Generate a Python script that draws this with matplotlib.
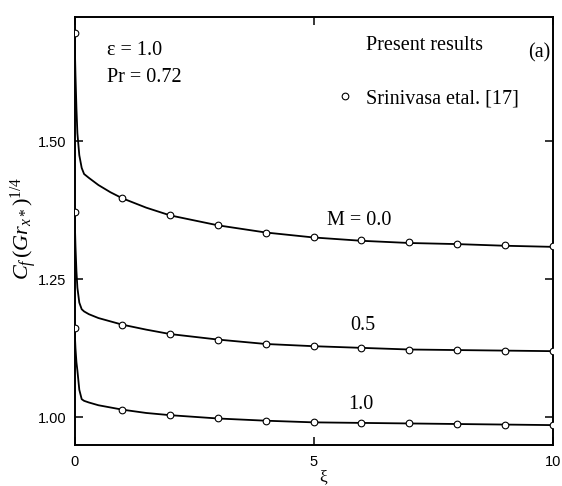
import matplotlib.pyplot as plt
from matplotlib.lines import Line2D

plt.rcParams['font.family'] = ['Liberation Serif', 'DejaVu Serif']
plt.rcParams['mathtext.fontset'] = 'custom'
plt.rcParams['mathtext.rm'] = 'Liberation Serif'
plt.rcParams['mathtext.it'] = 'Liberation Serif:italic'
plt.rcParams['mathtext.bf'] = 'Liberation Serif:bold'

# solid lines (present results)
xi_line = [0, 0.02, 0.04, 0.06, 0.1, 0.15, 0.2, 0.3, 0.5, 0.75, 1, 1.5, 2, 3, 4, 5, 6, 7, 8, 9, 10]
cf_m00 = [1.696, 1.62, 1.56, 1.515, 1.475, 1.452, 1.441, 1.434, 1.421, 1.408, 1.397, 1.380, 1.366,
          1.348, 1.335, 1.326, 1.320, 1.316, 1.314, 1.311, 1.309]
cf_m05 = [1.373, 1.31, 1.265, 1.235, 1.208, 1.196, 1.192, 1.187, 1.180, 1.174, 1.168, 1.159, 1.151,
          1.141, 1.133, 1.129, 1.126, 1.123, 1.122, 1.121, 1.120]
cf_m10 = [1.162, 1.125, 1.100, 1.085, 1.050, 1.033, 1.030, 1.027, 1.022, 1.018, 1.014, 1.008, 1.004,
          0.998, 0.994, 0.991, 0.990, 0.989, 0.988, 0.987, 0.986]

# open circles (Srinivasa etal. [17])
xi_pts = [0, 1, 2, 3, 4, 5, 6, 7, 8, 9, 10]
sr_m00 = [1.696, 1.397, 1.366, 1.348, 1.335, 1.326, 1.321, 1.317, 1.315, 1.312, 1.310]
sr_m05 = [1.373, 1.168, 1.151, 1.141, 1.133, 1.129, 1.126, 1.123, 1.122, 1.121, 1.120]
sr_m10 = [1.162, 1.014, 1.004, 0.998, 0.994, 0.991, 0.990, 0.989, 0.988, 0.987, 0.986]

m_labels = ["M = 0.0", "0.5", "1.0"]
label_pos = [(0.528, 0.525), (0.576, 0.280), (0.572, 0.094)]

fig = plt.figure(figsize=(5.62, 4.86), dpi=100)
ax = fig.add_axes([0.1326, 0.0844, 0.8508, 0.8812])

for cf in [cf_m00, cf_m05, cf_m10]:
    ax.plot(xi_line, cf, color='black', lw=1.3, zorder=2)
for sr in [sr_m00, sr_m05, sr_m10]:
    ax.plot(xi_pts, sr, ls='none', marker='o', ms=4.8, mfc='white', mec='black', mew=0.8, zorder=3)

ax.set_xlim(0, 10)
ax.set_ylim(0.95, 1.726)
ax.set_xticks([0, 5, 10])
ax.set_yticks([1.00, 1.25, 1.50])
ax.set_yticklabels(["1.00", "1.25", "1.50"])
ax.tick_params(direction='in', length=6, width=1.1, top=True, right=True,
               labelsize=10.5)
ax.tick_params(axis='x', pad=7)
ax.tick_params(axis='y', pad=6)
for lab in ax.get_xticklabels() + ax.get_yticklabels():
    lab.set_fontfamily('Liberation Sans')
for sp in ax.spines.values():
    sp.set_linewidth(1.4)

ax.set_xlabel("ξ", fontsize=12.5)
ax.xaxis.set_label_coords(0.52, -0.057)
ax.set_ylabel(r'$C_{f}\,(Gr_{x*})^{\mathit{1/4}}$', fontsize=16)
ax.yaxis.set_label_coords(-0.074, 0.507)

ax.text(0.068, 0.922, "ε = 1.0", transform=ax.transAxes, fontsize=14.5, va='center')
ax.text(0.068, 0.857, "Pr = 0.72", transform=ax.transAxes, fontsize=14.5, va='center')
ax.text(0.995, 0.915, "(a)", transform=ax.transAxes, fontsize=14.5, va='center', ha='right')
for lab, (px, py) in zip(m_labels, label_pos):
    ax.text(px, py, lab, transform=ax.transAxes, fontsize=14.5, va='center')

handles = [Line2D([], [], color='none'),
           Line2D([], [], ls='none', marker='o', ms=4.8, mfc='white', mec='black', mew=0.8)]
ax.legend(handles, ["Present results", "Srinivasa etal. [17]"], loc='upper left',
          bbox_to_anchor=(0.545, 0.955), frameon=False, fontsize=14.5,
          handlelength=1.0, handletextpad=0.55, labelspacing=1.7,
          borderpad=0, borderaxespad=0)

fig.savefig("out.png", dpi=100)
